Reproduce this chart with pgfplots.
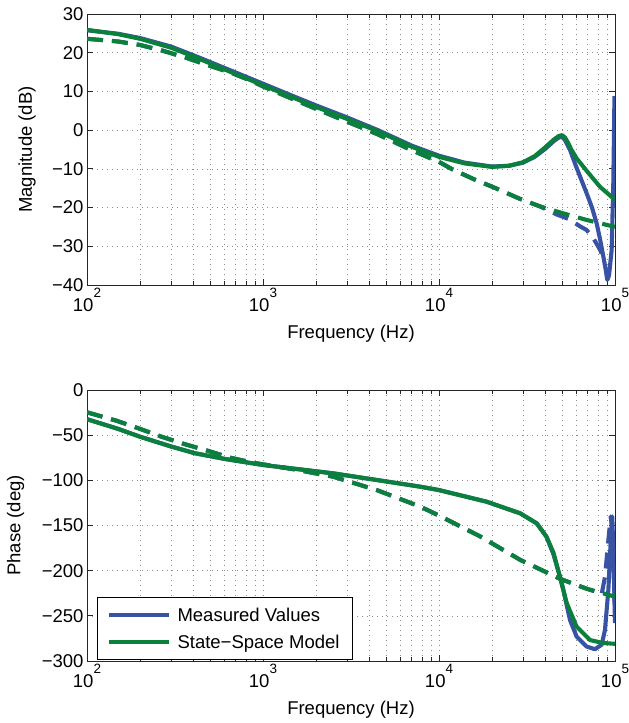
\documentclass[border=0pt]{standalone}
\usepackage{pgfplots}
\pgfplotsset{compat=1.18}
\usepackage{fontspec}
\setmainfont{Liberation Sans}
\definecolor{mblue}{RGB}{57,83,164}
\definecolor{mgreen}{RGB}{10,128,60}
\newcommand\fs{\fontsize{18.5}{22}\selectfont}
\newcommand\ee[1]{10\raisebox{0.72em}{\fontsize{13.5}{14}\selectfont #1}}
\tikzset{
  solidl/.style={line width=4.1pt, line join=round},
  dashl/.style={line width=4.1pt, line join=round, dash pattern=on 16pt off 9pt},
}
\begin{document}
\begin{tikzpicture}
\useasboundingbox (0,0) rectangle (629pt,723pt);
% ---------------- magnitude ----------------
\begin{axis}[at={(87pt,438pt)}, anchor=south west,
    xmode=log, scale only axis, width=528pt, height=271pt,
    xmin=100, xmax=100000,
    xtick={100,1000,10000,100000},
    xticklabels={\ee{2},\ee{3},\ee{4},\ee{5}},
    minor xtick={200,300,400,500,600,700,800,900,2000,3000,4000,5000,6000,7000,8000,9000,20000,30000,40000,50000,60000,70000,80000,90000},
    grid=both,
    major grid style={black!45, line width=0.6pt, dash pattern=on 1pt off 4pt},
    minor grid style={black!45, line width=0.6pt, dash pattern=on 1pt off 4pt},
    tick align=inside,
    major tick length=6pt, minor tick length=3.5pt,
    tick style={black!85, line width=0.8pt},
    axis line style={black!85, line width=0.9pt},
    tick label style={font=\fs},
    xlabel={Frequency (Hz)},
    xlabel style={font=\fs, at={(axis description cs:0.5,-0.1956)}, anchor=base},
  ymin=-40, ymax=30,
  ytick={-40,-30,-20,-10,0,10,20,30},
  yticklabels={−40,−30,−20,−10,0,10,20,30},
  ylabel={Magnitude (dB)},
  ylabel style={font=\fs, at={(axis description cs:-0.1136,0.5)}, anchor=center},
]
\addplot[mblue, solidl] table {
100 25.8
150 24.9
200 23.8
300 21.6
410 19.2
610 16.0
1000 12.0
1500 8.7
2000 6.4
3000 3.3
4500 0.0
7000 -4.0
10000 -6.6
14000 -8.4
20000 -9.4
25000 -9.2
30000 -8.4
35000 -6.9
40000 -4.9
45000 -2.8
48000 -1.9
50000 -1.7
52000 -2.6
55500 -5.1
60000 -9.3
65000 -13.3
69000 -16.3
74000 -20.0
78700 -24.1
82500 -28.5
85900 -32.7
88500 -36.0
90400 -38.7
92500 -37.5
95700 -31.0
97800 -13.7
99300 8.8
};
\addplot[mblue, dashl] table {
100 23.6
150 22.9
200 22.0
270 20.5
360 18.8
500 16.6
670 14.7
850 12.8
1000 11.3
1500 7.9
2000 5.5
3000 2.2
4500 -1.1
7000 -5.2
10000 -8.2
12000 -10.2
16000 -12.8
21000 -15.0
29000 -17.8
37500 -19.7
46700 -21.8
55000 -23.0
63000 -24.8
69000 -25.8
75300 -27.9
82000 -30.8
86000 -33.0
};
\addplot[mgreen, solidl] table {
100 25.9
150 24.8
200 23.6
300 21.3
410 18.9
610 15.6
1000 11.6
1500 8.3
2000 6.0
3000 2.9
4500 -0.3
7000 -4.3
10000 -6.9
14000 -8.6
20000 -9.5
25000 -9.2
30000 -8.3
35000 -6.7
40000 -4.5
45000 -2.4
48000 -1.5
50000 -1.3
52000 -1.9
54000 -3.2
56600 -5.1
60500 -7.3
69000 -10.5
82000 -14.6
100000 -18.0
};
\addplot[mgreen, dashl] table {
100 23.6
150 22.9
200 22.0
270 20.5
360 18.8
500 16.6
670 14.7
850 12.8
1000 11.3
1500 7.9
2000 5.5
3000 2.2
4500 -1.1
7000 -5.2
10000 -8.2
12000 -10.2
16000 -12.8
21000 -15.0
29000 -17.8
37500 -19.7
50000 -21.4
69000 -23.2
100000 -25.0
};
\end{axis}
% ---------------- phase ----------------
\begin{axis}[at={(87pt,62pt)}, anchor=south west,
    xmode=log, scale only axis, width=528pt, height=271pt,
    xmin=100, xmax=100000,
    xtick={100,1000,10000,100000},
    xticklabels={\ee{2},\ee{3},\ee{4},\ee{5}},
    minor xtick={200,300,400,500,600,700,800,900,2000,3000,4000,5000,6000,7000,8000,9000,20000,30000,40000,50000,60000,70000,80000,90000},
    grid=both,
    major grid style={black!45, line width=0.6pt, dash pattern=on 1pt off 4pt},
    minor grid style={black!45, line width=0.6pt, dash pattern=on 1pt off 4pt},
    tick align=inside,
    major tick length=6pt, minor tick length=3.5pt,
    tick style={black!85, line width=0.8pt},
    axis line style={black!85, line width=0.9pt},
    tick label style={font=\fs},
    xlabel={Frequency (Hz)},
    xlabel style={font=\fs, at={(axis description cs:0.5,-0.1956)}, anchor=base},
  ymin=-300, ymax=0,
  ytick={-300,-250,-200,-150,-100,-50,0},
  yticklabels={−300,−250,−200,−150,−100,−50,0},
  ylabel={Phase (deg)},
  ylabel style={font=\fs, at={(axis description cs:-0.1354,0.5)}, anchor=center},
  legend cell align=left,
  legend style={at={(axis description cs:0.019,0.004)}, anchor=south west,
    draw=black, line width=0.8pt, font=\fs, inner xsep=10pt, inner ysep=7pt,
    row sep=6pt, column sep=3pt, nodes={inner sep=3pt}},
  legend image code/.code={\draw[#1, solid] (0pt,0pt) -- (60pt,0pt);},
]
\addplot[mblue, solidl] table {
100 -32.3
150 -43.0
200 -51.7
300 -62.5
410 -70.0
610 -76.4
1000 -83.0
2510 -92.3
4420 -99.6
7800 -107.0
10000 -110.8
18600 -123.6
28900 -136.5
35900 -147.6
40800 -162.4
44700 -182.0
48700 -207.0
50800 -221.0
55500 -254.6
60500 -273.0
69000 -284.0
76900 -287.0
84000 -282.0
87700 -265.7
91700 -221.0
94600 -166.0
96500 -140.0
98500 -200.0
100000 -258.0
};
\addlegendentry{Measured Values}
\addplot[mblue, dashl, forget plot] table {
100 -24.7
147 -34.0
196 -42.4
265 -51.7
361 -60.1
490 -67.5
649 -74.9
881 -80.5
1000 -82.3
1500 -87.8
2510 -96.0
4420 -110.7
7800 -129.0
10000 -139.0
17100 -162.0
28900 -188.0
48700 -209.0
69000 -220.0
80000 -224.0
84000 -226.0
87700 -207.0
91700 -166.0
94600 -140.0
97000 -160.0
100000 -250.0
};
\addplot[mgreen, solidl] table {
100 -32.3
150 -43.0
200 -51.7
300 -62.5
410 -70.0
610 -76.4
1000 -83.0
2510 -92.3
4420 -99.6
7800 -107.0
10000 -110.8
18600 -123.6
28900 -136.5
35900 -147.6
40800 -162.4
44700 -180.0
48700 -207.0
53200 -236.0
60500 -262.0
72100 -276.8
85000 -280.0
100000 -281.0
};
\addlegendentry{State−Space Model}
\addplot[mgreen, dashl, forget plot] table {
100 -24.7
147 -34.0
196 -42.4
265 -51.7
361 -60.1
490 -67.5
649 -74.9
881 -80.5
1000 -82.3
1500 -87.8
2510 -96.0
4420 -110.7
7800 -129.0
10000 -139.0
17100 -162.0
28900 -188.0
48700 -209.0
69000 -220.0
100000 -228.8
};
\end{axis}
\end{tikzpicture}
\end{document}
